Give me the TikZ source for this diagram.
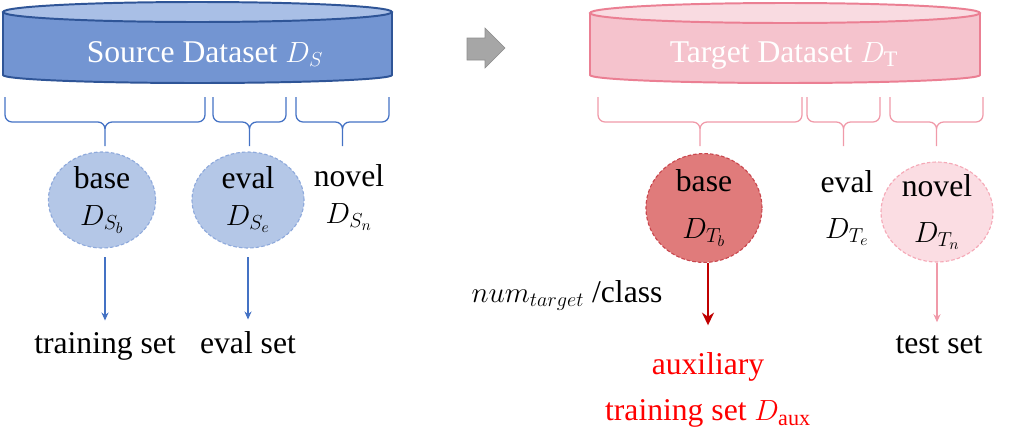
\documentclass[tikz,border=0pt]{standalone}
\usepackage{fontspec}
\setmainfont{Liberation Serif}
\newfontfamily\figfont{Liberation Serif}
\usetikzlibrary{shapes.geometric, arrows.meta, positioning}
\definecolor{srcedge}{HTML}{2F5597}
\definecolor{srcbody}{HTML}{7395D2}
\definecolor{srctop}{HTML}{A9BFE6}
\definecolor{srcline}{HTML}{4472C4}
\definecolor{srcdisk}{HTML}{B4C7E7}
\definecolor{srcdash}{HTML}{8FAADC}
\definecolor{tgtedge}{HTML}{EB7F93}
\definecolor{tgtbody}{HTML}{F5C3CD}
\definecolor{tgttop}{HTML}{F9DBE1}
\definecolor{tgtline}{HTML}{F09AA9}
\definecolor{basefill}{HTML}{E07B7B}
\definecolor{baseedge}{HTML}{C9474E}
\definecolor{novelfill}{HTML}{FBDDE3}
\definecolor{noveledge}{HTML}{F5A9B7}
\definecolor{auxred}{HTML}{C00000}
\definecolor{shiftgray}{HTML}{A6A6A6}

\begin{document}
\begin{tikzpicture}[x=0.025cm, y=-0.025cm,
    lbl/.style={font=\figfont\fontsize{22.5}{26}\selectfont, align=center, inner sep=0pt},
    lblwide/.style={lbl, font=\figfont\fontsize{22.5}{33}\selectfont},
    disk/.style={ellipse, inner sep=0pt, dash pattern=on 2.5pt off 1.5pt, line width=0.8pt},
    thinarrow/.style={-{Stealth[length=5.7pt, width=5pt]}, line width=1.3pt}]
    \useasboundingbox (0,0) rectangle (1035,435);
    \def\splitbrace#1#2#3#4{\draw[#4, line width=0.9pt, rounded corners=5pt] (#1,97) -- (#1,122) -- (#2,122) -- (#2,146) (#3,97) -- (#3,122) -- (#2,122) -- (#2,146);}
    \filldraw[srcedge, fill=srcbody, line width=1.4pt] (3,12) -- (3,75) arc[start angle=180, end angle=0, x radius=194.5, y radius=8] -- (392,12);
    \filldraw[srcedge, fill=srctop, line width=1.4pt] (197.5,12) ellipse[x radius=194.5, y radius=10];
    \node[lbl, white, anchor=base] (srcname) at (205,62) {Source Dataset $D_S$};
    \filldraw[tgtedge, fill=tgtbody, line width=1.4pt] (590,13) -- (590,75) arc[start angle=180, end angle=0, x radius=195, y radius=8] -- (980,13);
    \filldraw[tgtedge, fill=tgttop, line width=1.4pt] (785,13) ellipse[x radius=195, y radius=10];
    \node[lbl, white, anchor=base] (tgtname) at (784,62) {Target Dataset $D_\mathrm{T}$};
    \filldraw[draw=shiftgray!85!black, fill=shiftgray] (467,38) -- (485,38) -- (485,28) -- (505,48) -- (485,68) -- (485,60) -- (467,60) -- cycle;
    \splitbrace{5}{105}{205}{srcline}
    \splitbrace{213}{249.5}{286}{srcline}
    \splitbrace{296}{342.5}{389}{srcline}
    \splitbrace{598}{700}{802}{tgtline}
    \splitbrace{807}{843.5}{880}{tgtline}
    \splitbrace{890}{936.5}{983}{tgtline}
    \node[disk, draw=srcdash, fill=srcdisk, minimum width=2.68cm, minimum height=2.4cm] (baseS) at (102,200) {};
    \node[disk, draw=srcdash, fill=srcdisk, minimum width=2.8cm, minimum height=2.4cm] (evalS) at (248,200) {};
    \node[disk, draw=baseedge, fill=basefill, minimum width=2.9cm, minimum height=2.72cm] (baseT) at (704,208) {};
    \node[disk, draw=noveledge, fill=novelfill, minimum width=2.8cm, minimum height=2.5cm] (novelT) at (937,212) {};
    \node[lbl] (baseStxt) at (baseS) {base\\$D_{S_b}$};
    \node[lbl] (evalStxt) at (evalS) {eval\\$D_{S_e}$};
    \node[lbl] (novelS) at (349,198) {novel\\$D_{S_n}$};
    \node[lblwide] (baseTtxt) at (baseT) {base\\$D_{T_b}$};
    \node[lblwide] (evalT) at (847,208) {eval\\$D_{T_e}$};
    \node[lblwide] (novelTtxt) at (novelT) {novel\\$D_{T_n}$};
    \node[lbl, anchor=base] (trainset) at (105,353) {training set};
    \node[lbl, anchor=base] (evalset) at (248,353) {eval set};
    \node[lbl, anchor=base] (testset) at (939,353) {test set};
    \node[lbl, anchor=base] (numT) at (567,302) {$num_{target}$ /class};
    \node[lbl, red, anchor=north, font=\figfont\fontsize{22.5}{33}\selectfont] (auxT) at (708,352) {auxiliary\\training set $D_{\mathrm{aux}}$};
    \draw[thinarrow, srcline, shorten <=6pt, shorten >=8pt] (baseS.south -| trainset) -- (trainset.north);
    \draw[thinarrow, srcline, shorten <=6pt, shorten >=8pt] (evalS.south) -- (evalS.south |- evalset.north);
    \draw[thinarrow, tgtline, shorten >=9pt] (novelT.south) -- (novelT.south |- testset.north);
    \draw[-{Stealth[length=9pt, width=8.5pt]}, auxred, line width=2pt, shorten >=19pt] (baseT.south -| auxT) -- (auxT.north);
\end{tikzpicture}
\end{document}
